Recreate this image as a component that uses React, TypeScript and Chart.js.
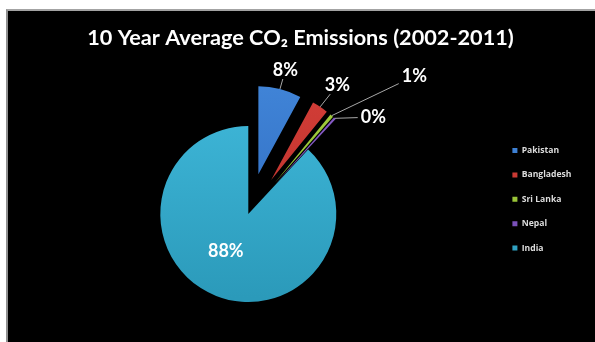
import React, { useEffect, useRef } from 'react';
import { Chart, registerables, ArcElement, PieController } from 'chart.js';

// ---- data ----
const categories = ['Pakistan', 'Bangladesh', 'Sri Lanka', 'Nepal', 'India'];
const emissionShare = [7.9, 3.0, 0.6, 0.4, 88.1];
const chartTitle = '10 Year Average CO\u2082 Emissions (2002-2011)';

// ---- styles ----
const sliceColorsTop = ['#4489dc', '#d8403a', '#a8d240', '#8d60cc', '#40b9db'];
const sliceColorsBottom = ['#2f6cc0', '#b8302a', '#8cb830', '#7048b0', '#2b9aba'];
const explodeDistance = [41, 41, 41, 41, 0];
const labelRadius = [1.224, 1.315, 1.995, 1.341, 0.492];
const labelAngleShift = [0.3, 1.1, 12.3, 13.6, 9.9];

class ExplodedArc extends ArcElement {
  static id = 'explodedArc';
  static defaults = { ...(ArcElement as any).defaults, explode: 0 };
  draw(ctx: CanvasRenderingContext2D) {
    const self: any = this;
    const e = (self.options && self.options.explode) || 0;
    const mid = (self.startAngle + self.endAngle) / 2;
    ctx.save();
    ctx.translate(Math.cos(mid) * e, Math.sin(mid) * e);
    super.draw(ctx);
    ctx.restore();
  }
}

class ExplodedPieController extends PieController {
  static id = 'explodedPie';
  static defaults = { ...(PieController as any).defaults, dataElementType: 'explodedArc' };
}

Chart.register(...registerables, ExplodedArc as any, ExplodedPieController as any);

const labelPlugin = {
  id: 'pctLabels',
  afterDatasetsDraw(chart: any) {
    const ctx = chart.ctx as CanvasRenderingContext2D;
    const meta = chart.getDatasetMeta(0);
    const total = emissionShare.reduce((a, b) => a + b, 0);
    ctx.save();
    ctx.font = 'bold 18px Lato';
    ctx.textAlign = 'center';
    ctx.textBaseline = 'middle';
    meta.data.forEach((arc: any, i: number) => {
      const p = arc.getProps(['x', 'y', 'startAngle', 'endAngle', 'outerRadius'], true);
      const mid = (p.startAngle + p.endAngle) / 2;
      const e = (arc.options && arc.options.explode) || 0;
      const cx = p.x + Math.cos(mid) * e;
      const cy = p.y + Math.sin(mid) * e;
      const a = mid + (labelAngleShift[i] * Math.PI) / 180;
      const lx = cx + Math.cos(a) * p.outerRadius * labelRadius[i];
      const ly = cy + Math.sin(a) * p.outerRadius * labelRadius[i];
      const text = Math.round((emissionShare[i] / total) * 100) + '%';
      if (labelRadius[i] > 1) {
        const ax = cx + Math.cos(mid) * p.outerRadius;
        const ay = cy + Math.sin(mid) * p.outerRadius;
        const hw = ctx.measureText(text).width / 2 + 3;
        const hh = 9;
        const dx = ax - lx;
        const dy = ay - ly;
        const t = Math.min(hw / Math.max(Math.abs(dx), 1e-6), hh / Math.max(Math.abs(dy), 1e-6));
        ctx.strokeStyle = '#a8a8a8';
        ctx.lineWidth = 1;
        ctx.beginPath();
        ctx.moveTo(ax, ay);
        ctx.lineTo(lx + dx * t, ly + dy * t);
        ctx.stroke();
      }
      ctx.fillStyle = '#ffffff';
      ctx.fillText(text, lx, ly);
    });
    ctx.restore();
  },
};

const titlePlugin = {
  id: 'panelTitle',
  afterDraw(chart: any) {
    const ctx = chart.ctx as CanvasRenderingContext2D;
    ctx.save();
    ctx.font = 'bold 21.7px Lato';
    ctx.fillStyle = '#ffffff';
    ctx.textAlign = 'center';
    ctx.textBaseline = 'alphabetic';
    ctx.fillText(chartTitle, chart.width / 2 + 3, 45);
    ctx.restore();
  },
};

function sliceFill(context: any) {
  const i = context.dataIndex;
  const chart = context.chart;
  const area = chart.chartArea;
  if (!area || i === undefined) return sliceColorsTop[i || 0];
  const g = chart.ctx.createLinearGradient(0, area.top - 45, 0, area.bottom);
  g.addColorStop(0, sliceColorsTop[i]);
  g.addColorStop(1, sliceColorsBottom[i]);
  return g;
}

export default function App() {
  const canvasRef = useRef<HTMLCanvasElement | null>(null);

  useEffect(() => {
    if (!canvasRef.current) return;
    const chart = new Chart(canvasRef.current, {
      type: 'explodedPie' as any,
      data: {
        labels: categories,
        datasets: [
          {
            data: emissionShare,
            backgroundColor: sliceFill,
            borderWidth: 0,
            hoverOffset: 0,
            explode: explodeDistance,
          } as any,
        ],
      },
      options: {
        responsive: false,
        maintainAspectRatio: false,
        animation: false,
        devicePixelRatio: 1,
        events: [],
        radius: 88,
        layout: { padding: { top: 130.4, bottom: 44.4, left: -3, right: 18.4 } },
        plugins: {
          title: { display: false },
          tooltip: { enabled: false },
          legend: {
            display: true,
            position: 'right',
            align: 'start',
            maxWidth: 80,
            labels: {
              boxWidth: 5,
              boxHeight: 5,
              padding: 15.8,
              color: '#dcdcdc',
              font: { family: 'Open Sans', size: 8.6, weight: 'bold' },
            },
          },
        },
      } as any,
      plugins: [labelPlugin, titlePlugin],
    });
    return () => chart.destroy();
  }, []);

  return (
    <div style={{ position: 'fixed', left: 0, top: 0, width: 595, height: 342, background: '#ffffff', overflow: 'hidden' }}>
      <div
        style={{
          position: 'absolute',
          left: 6,
          top: 9,
          right: 0,
          bottom: 0,
          background: '#000000',
          borderTop: '2px solid #a3a3a3',
          borderLeft: '2px solid #8f8f8f',
        }}
      />
      <canvas ref={canvasRef} width={595} height={342} style={{ position: 'absolute', left: 0, top: 0, width: 595, height: 342 }} />
    </div>
  );
}
